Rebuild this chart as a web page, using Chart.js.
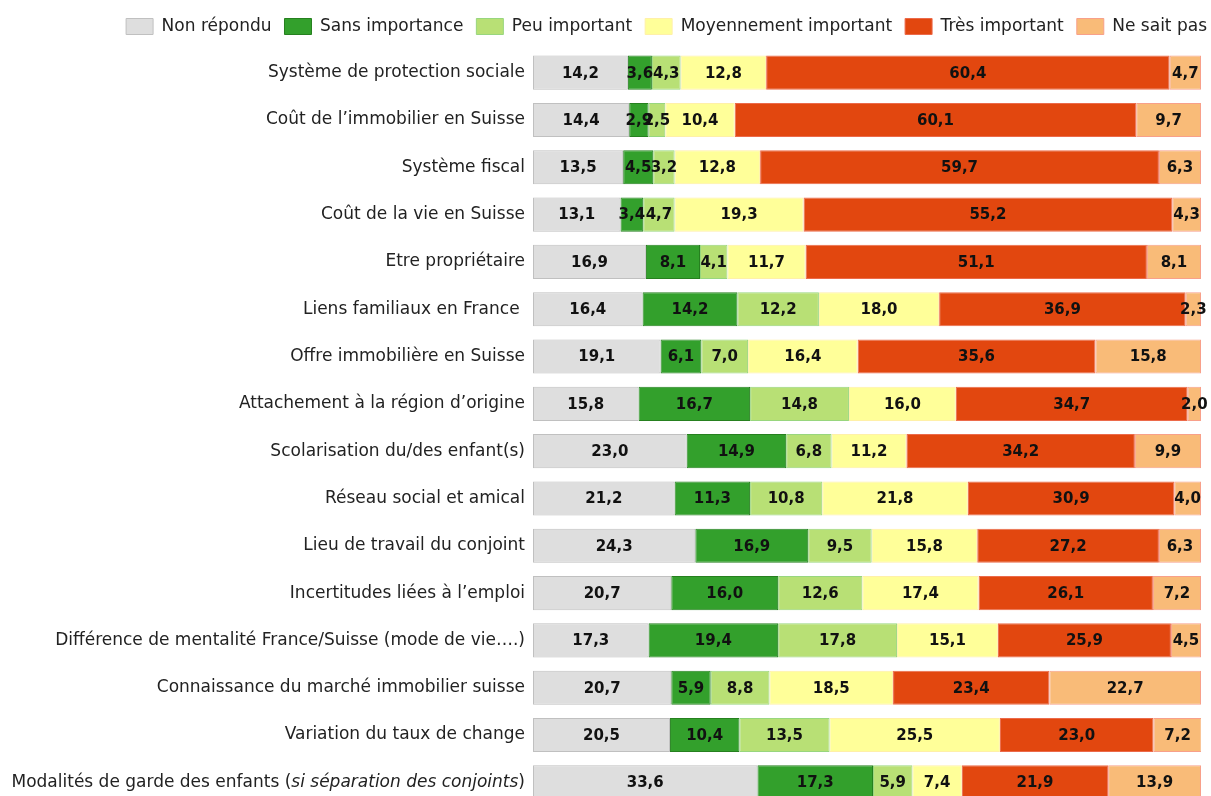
<!DOCTYPE html>
<html>
<head>
<meta charset="utf-8">
<script src="https://cdn.jsdelivr.net/npm/chart.js@4"></script>
<style>
  html, body { margin: 0; padding: 0; background: #fff; overflow: hidden; }
  #wrap { position: relative; width: 1220px; height: 807px; }
</style>
</head>
<body>
<div id="wrap"><canvas id="chart"></canvas></div>
<script>
'use strict';

// Categories (top to bottom)
var categories = [
  'Système de protection sociale',
  'Coût de l\u2019immobilier en Suisse',
  'Système fiscal',
  'Coût de la vie en Suisse',
  'Etre propriétaire',
  'Liens familiaux en France ',
  'Offre immobilière en Suisse',
  'Attachement à la région d\u2019origine',
  'Scolarisation du/des enfant(s)',
  'Réseau social et amical',
  'Lieu de travail du conjoint',
  'Incertitudes liées à l\u2019emploi',
  'Différence de mentalité France/Suisse (mode de vie\u2026.)',
  'Connaissance du marché immobilier suisse',
  'Variation du taux de change',
  'Modalités de garde des enfants (si séparation des conjoints)'
];

// Series values (%)
var nonRepondu    = [14.2, 14.4, 13.5, 13.1, 16.9, 16.4, 19.1, 15.8, 23.0, 21.2, 24.3, 20.7, 17.3, 20.7, 20.5, 33.6];
var sansImport    = [3.6, 2.9, 4.5, 3.4, 8.1, 14.2, 6.1, 16.7, 14.9, 11.3, 16.9, 16.0, 19.4, 5.9, 10.4, 17.3];
var peuImport     = [4.3, 2.5, 3.2, 4.7, 4.1, 12.2, 7.0, 14.8, 6.8, 10.8, 9.5, 12.6, 17.8, 8.8, 13.5, 5.9];
var moyenImport   = [12.8, 10.4, 12.8, 19.3, 11.7, 18.0, 16.4, 16.0, 11.2, 21.8, 15.8, 17.4, 15.1, 18.5, 25.5, 7.4];
var tresImport    = [60.4, 60.1, 59.7, 55.2, 51.1, 36.9, 35.6, 34.7, 34.2, 30.9, 27.2, 26.1, 25.9, 23.4, 23.0, 21.9];
var neSaitPas     = [4.7, 9.7, 6.3, 4.3, 8.1, 2.3, 15.8, 2.0, 9.9, 4.0, 6.3, 7.2, 4.5, 22.7, 7.2, 13.9];

var seriesNames = ['Non répondu', 'Sans importance', 'Peu important', 'Moyennement important', 'Très important', 'Ne sait pas'];
var seriesData = [nonRepondu, sansImport, peuImport, moyenImport, tresImport, neSaitPas];
var fills = ['#dedede', '#33a02c', '#b8e075', '#ffff99', '#e2470f', '#f9bb78'];
var borders = ['#c0c0c0', '#26801f', '#98d67e', '#fff0a8', '#ec6a4a', '#f8a08a'];

var FONT = '"DejaVu Sans", Verdana, sans-serif';

var datasets = seriesNames.map(function (name, i) {
  return {
    label: name,
    data: seriesData[i],
    backgroundColor: fills[i],
    borderColor: borders[i],
    borderWidth: 1,
    borderSkipped: false,
    categoryPercentage: 0.72,
    barPercentage: 1
  };
});

// empty axis used only to reserve space around the plot
function spacer(pos, size) {
  return {
    type: 'linear',
    position: pos,
    display: true,
    grid: { display: false },
    border: { display: false },
    ticks: { display: false },
    afterFit: function (scale) {
      if (pos === 'top') scale.height = size; else scale.width = size;
    }
  };
}

// category names on the left, drawn by hand so the last one can have an italic part
var rowLabels = {
  id: 'rowLabels',
  afterDraw: function (chart) {
    var ctx = chart.ctx;
    var y = chart.scales.y;
    var xRight = chart.chartArea.left - 8;
    ctx.save();
    ctx.fillStyle = '#222';
    ctx.textBaseline = 'middle';
    ctx.textAlign = 'left';
    categories.forEach(function (cat, i) {
      var py = y.getPixelForValue(i);
      var parts;
      if (cat.indexOf('(si ') > 0) {
        var a = cat.indexOf('(si ') + 1;
        var b = cat.lastIndexOf(')');
        parts = [[cat.slice(0, a), false], [cat.slice(a, b), true], [cat.slice(b), false]];
      } else {
        parts = [[cat, false]];
      }
      var widths = parts.map(function (p) {
        ctx.font = (p[1] ? 'italic ' : '') + '17px ' + FONT;
        return ctx.measureText(p[0]).width;
      });
      var total = widths.reduce(function (s, w) { return s + w; }, 0);
      var px = xRight - total;
      parts.forEach(function (p, k) {
        ctx.font = (p[1] ? 'italic ' : '') + '17px ' + FONT;
        ctx.fillText(p[0], px, py);
        px += widths[k];
      });
    });
    ctx.restore();
  }
};

// value written in the middle of each segment
var valueLabels = {
  id: 'valueLabels',
  afterDatasetsDraw: function (chart) {
    var ctx = chart.ctx;
    ctx.save();
    ctx.font = 'bold 15px ' + FONT;
    ctx.fillStyle = '#111';
    ctx.textAlign = 'center';
    ctx.textBaseline = 'middle';
    chart.data.datasets.forEach(function (ds, di) {
      var meta = chart.getDatasetMeta(di);
      meta.data.forEach(function (bar, i) {
        var v = ds.data[i];
        ctx.fillText(v.toFixed(1).replace('.', ','), (bar.x + bar.base) / 2, bar.y + 1);
      });
    });
    ctx.restore();
  }
};

new Chart(document.getElementById('chart'), {
  type: 'bar',
  data: { labels: categories, datasets: datasets },
  plugins: [rowLabels, valueLabels],
  options: {
    indexAxis: 'y',
    responsive: true,
    maintainAspectRatio: false,
    animation: false,
    layout: { padding: { left: 0, right: 0, top: 5, bottom: 1 } },
    scales: {
      x: { stacked: true, min: 0, max: 100, display: false },
      y: {
        stacked: true,
        grid: { display: false },
        border: { display: false },
        ticks: { display: false },
        afterFit: function (scale) { scale.width = 533; }
      },
      gapTop: spacer('top', 4),
      gapRight: spacer('right', 19)
    },
    plugins: {
      tooltip: { enabled: false },
      legend: {
        position: 'top',
        align: 'end',
        labels: {
          boxWidth: 27,
          boxHeight: 16,
          padding: 13,
          color: '#222',
          font: { family: FONT, size: 17 }
        }
      }
    }
  }
});
</script>
</body>
</html>
